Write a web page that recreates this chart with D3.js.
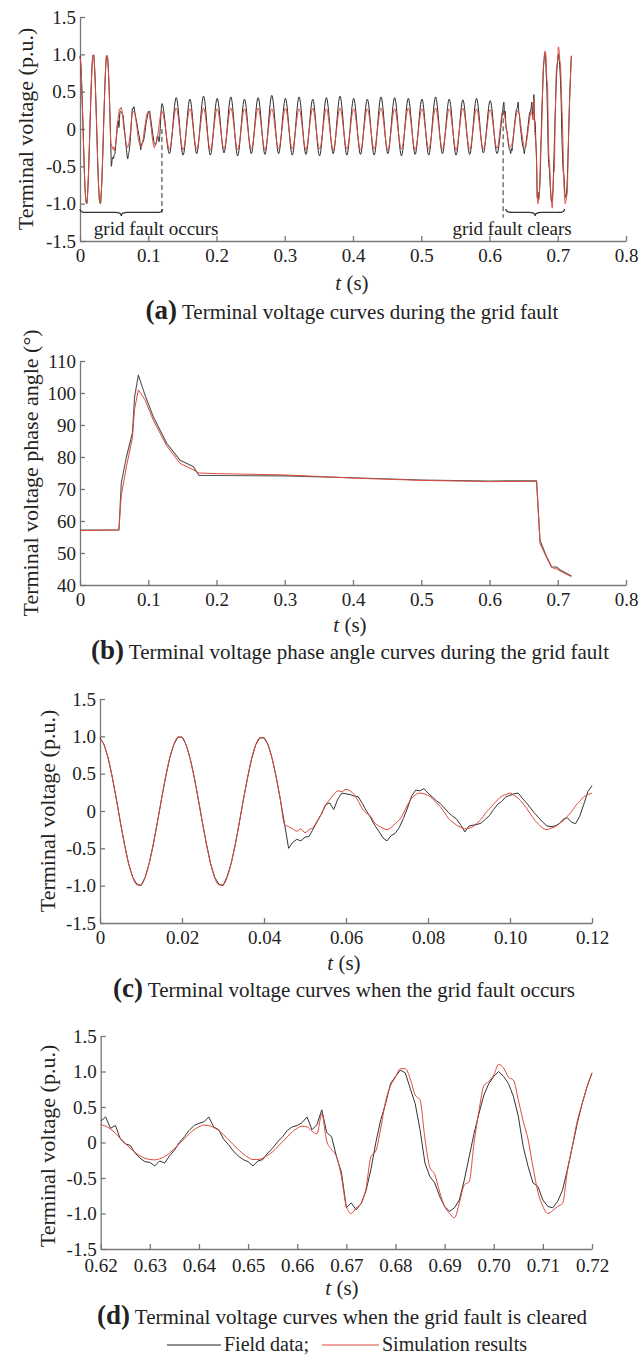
<!DOCTYPE html>
<html>
<head>
<meta charset="utf-8">
<script src="https://cdn.jsdelivr.net/npm/d3@7"></script>
<style>
  body { margin: 0; background: #fff; }
  svg text { font-family: "Liberation Serif", "Times New Roman", serif; fill: #222; }
  .axis path, .axis line { stroke: #777; stroke-width: 1.3; }
</style>
</head>
<body>
<script>
// Step 1: chart data
//= ================================
// panel (c): fault occurs, sampled every 1 ms from 0 s
var fieldC = [
  0.98, 0.89, 0.71, 0.45, 0.16, -0.16, -0.45, -0.71, -0.89, -0.98,
  -1.00, -0.89, -0.70, -0.45, -0.15, 0.16, 0.45, 0.71, 0.89, 0.99,
  0.99, 0.89, 0.70, 0.45, 0.15, -0.16, -0.45, -0.71, -0.89, -0.98,
  -1.00, -0.88, -0.70, -0.45, -0.15, 0.16, 0.45, 0.70, 0.89, 0.98,
  0.98, 0.89, 0.70, 0.45, 0.15, -0.17, -0.50, -0.42, -0.38, -0.40,
  -0.35, -0.34, -0.24, -0.14, -0.04, 0.08, 0.11, 0.02, 0.16, 0.24,
  0.23, 0.22, 0.20, 0.19, 0.10, 0.00, -0.09, -0.19, -0.27, -0.36,
  -0.40, -0.33, -0.30, -0.22, -0.10, 0.04, 0.20, 0.28, 0.27, 0.30,
  0.24, 0.19, 0.14, 0.10, 0.04, -0.02, -0.07, -0.11, -0.19, -0.28,
  -0.20, -0.19, -0.18, -0.16, -0.11, -0.06, 0.02, 0.09, 0.13, 0.19,
  0.21, 0.23, 0.24, 0.17, 0.11, 0.04, -0.03, -0.09, -0.15, -0.20,
  -0.21, -0.20, -0.17, -0.11, -0.09, -0.15, -0.17, -0.07, 0.09, 0.26,
  0.34
];
var simC = [
  0.97, 0.88, 0.70, 0.45, 0.15, -0.16, -0.46, -0.71, -0.89, -0.99,
  -0.99, -0.89, -0.70, -0.44, -0.15, 0.16, 0.46, 0.71, 0.89, 0.99,
  0.99, 0.88, 0.70, 0.44, 0.15, -0.16, -0.46, -0.71, -0.90, -0.99,
  -0.99, -0.89, -0.70, -0.44, -0.15, 0.16, 0.45, 0.71, 0.89, 0.98,
  0.98, 0.88, 0.70, 0.44, 0.15, -0.18, -0.21, -0.24, -0.27, -0.24,
  -0.29, -0.25, -0.22, -0.13, -0.04, 0.08, 0.15, 0.22, 0.27, 0.26,
  0.29, 0.27, 0.22, 0.13, 0.03, -0.03, -0.07, -0.16, -0.20, -0.23,
  -0.25, -0.22, -0.17, -0.12, -0.03, 0.08, 0.17, 0.22, 0.24, 0.23,
  0.21, 0.17, 0.11, 0.06, -0.02, -0.10, -0.15, -0.19, -0.22, -0.24,
  -0.23, -0.21, -0.16, -0.11, -0.03, 0.03, 0.09, 0.15, 0.20, 0.22,
  0.24, 0.21, 0.17, 0.11, 0.04, -0.04, -0.12, -0.18, -0.23, -0.25,
  -0.23, -0.21, -0.17, -0.13, -0.07, -0.01, 0.07, 0.13, 0.19, 0.22,
  0.24
];

// panel (d): fault cleared, sampled every 1 ms from 0.62 s
var fieldD = [
  0.30, 0.36, 0.20, 0.24, 0.05, -0.02, -0.04, -0.15, -0.22, -0.27,
  -0.28, -0.33, -0.26, -0.29, -0.19, -0.11, 0.00, 0.08, 0.17, 0.24,
  0.27, 0.29, 0.36, 0.22, 0.18, 0.05, -0.03, -0.12, -0.19, -0.24,
  -0.27, -0.33, -0.26, -0.24, -0.15, -0.08, 0.01, 0.08, 0.17, 0.22,
  0.24, 0.28, 0.36, 0.18, 0.25, 0.46, 0.14, 0.08, -0.20, -0.42,
  -0.92, -0.85, -0.95, -0.86, -0.68, -0.38, 0.00, 0.32, 0.55, 0.83,
  0.93, 1.02, 0.98, 0.76, 0.55, 0.18, -0.29, -0.48, -0.57, -0.76,
  -0.90, -0.97, -0.92, -0.81, -0.53, -0.20, 0.13, 0.41, 0.67, 0.83,
  0.93, 1.00, 0.93, 0.83, 0.65, 0.37, -0.06, -0.34, -0.57, -0.62,
  -0.81, -0.90, -0.92, -0.83, -0.67, -0.38, -0.06, 0.27, 0.55, 0.79,
  0.98
];
var simD = [
  0.25, 0.23, 0.19, 0.13, 0.06, -0.01, -0.08, -0.14, -0.19, -0.22,
  -0.24, -0.245, -0.23, -0.20, -0.15, -0.09, -0.02, 0.05, 0.12, 0.18,
  0.22, 0.245, 0.24, 0.21, 0.17, 0.11, 0.04, -0.03, -0.10, -0.16,
  -0.21, -0.24, -0.24, -0.22, -0.18, -0.13, -0.06, 0.01, 0.08, 0.15,
  0.20, 0.23, 0.22, 0.16, 0.12, 0.40, 0.02, -0.10, -0.20, -0.48,
  -0.90, -1.00, -0.92, -0.86, -0.65, -0.20, -0.12, 0.20, 0.58, 0.80,
  0.92, 1.04, 1.04, 0.90, 0.67, 0.60, 0.05, -0.35, -0.45, -0.70,
  -0.90, -1.00, -1.06, -0.85, -0.60, -0.55, 0.00, 0.45, 0.80, 0.86,
  0.95, 1.10, 1.05, 0.92, 0.88, 0.60, 0.30, 0.04, -0.35, -0.70,
  -0.90, -1.00, -0.96, -0.90, -0.86, -0.40, -0.05, 0.30, 0.55, 0.78,
  0.98
];

// panel (a) middle part: peaks / troughs every 10 ms from 0.131 s
var fieldMid = [
  -0.33, 0.42, -0.35, 0.40, -0.33, 0.44, -0.35, 0.41, -0.32, 0.43,
  -0.36, 0.40, -0.33, 0.42, -0.34, 0.45, -0.33, 0.41, -0.35, 0.43,
  -0.34, 0.40, -0.36, 0.42, -0.33, 0.44, -0.35, 0.41, -0.34, 0.40,
  -0.35, 0.43, -0.33, 0.42, -0.36, 0.41, -0.34, 0.40, -0.35, 0.43,
  -0.33, 0.40, -0.35, 0.39, -0.34, 0.41, -0.32, 0.38, -0.33
];
var simMid = [
  -0.27, 0.28, -0.28, 0.27, -0.27, 0.28, -0.28, 0.27, -0.27, 0.28,
  -0.28, 0.27, -0.27, 0.28, -0.28, 0.27, -0.27, 0.28, -0.27, 0.27,
  -0.28, 0.28, -0.27, 0.27, -0.28, 0.28, -0.27, 0.27, -0.28, 0.27,
  -0.27, 0.28, -0.28, 0.27, -0.27, 0.28, -0.28, 0.27, -0.27, 0.28,
  -0.27, 0.27, -0.28, 0.28, -0.27, 0.27, -0.27, 0.26, -0.26
];

// panel (b): phase angle (deg)
var phaseTime = [0, 0.057, 0.0605, 0.068, 0.0768, 0.080, 0.0855, 0.095, 0.1074, 0.127,
  0.1465, 0.166, 0.1744, 0.2, 0.3, 0.4, 0.5, 0.6, 0.669, 0.674,
  0.6837, 0.691, 0.6986, 0.705, 0.72];
var fieldPhase = [57.2, 57.2, 71.9, 80.0, 87.5, 98.8, 105.6, 99.5, 92.6, 84.3,
  79.0, 77.0, 74.2, 74.2, 74.1, 73.5, 72.8, 72.5, 72.6, 54.0,
  48.8, 45.7, 45.6, 44.5, 42.8];
var simPhase = [57.0, 57.2, 68.0, 77.0, 86.0, 95.0, 101.0, 98.0, 91.5, 83.5,
  78.0, 76.0, 75.0, 74.8, 74.4, 73.4, 72.7, 72.3, 72.4, 53.0,
  48.5, 45.5, 45.0, 44.2, 42.6];

// tick values
var voltTicks = [-1.5, -1.0, -0.5, 0, 0.5, 1.0, 1.5];
var phaseTicks = [40, 50, 60, 70, 80, 90, 100, 110];
var fullTimeTicks = [0, 0.1, 0.2, 0.3, 0.4, 0.5, 0.6, 0.7, 0.8];
var occurTicks = [0, 0.02, 0.04, 0.06, 0.08, 0.10, 0.12];
var clearTicks = [0.62, 0.63, 0.64, 0.65, 0.66, 0.67, 0.68, 0.69, 0.70, 0.71, 0.72];

// annotations in panel (a): [dash time, dash top, dash bottom]; brace [from, to, label, label centre]
var faultDash = [[0.12, 0.0, -1.12], [0.62, 0.25, -1.19]];
var faultBrace = [[0, 0.121, "grid fault occurs", 0.1115], [0.624, 0.71, "grid fault clears", 0.633]];
var braceLevel = -1.07;

var fieldColor = "#2a2a2a";
var simColor = "#dd4a3e";

// build [t, v] series
function series(t0, step, vals) {
  return vals.map(function (v, i) { return [+(t0 + i * step).toFixed(4), v]; });
}
var fieldCSer = series(0, 0.001, fieldC);
var simCSer = series(0, 0.001, simC);
var fieldDSer = series(0.62, 0.001, fieldD);
var simDSer = series(0.62, 0.001, simD);
var fieldAll = fieldCSer.concat(series(0.131, 0.01, fieldMid), fieldDSer);
var simAll = simCSer.concat(series(0.131, 0.01, simMid), simDSer);

// Step 2: svg
//= ================================
var svg = d3.select("body").append("svg")
  .attr("width", 639)
  .attr("height", 1356);

function fmt1(d) { return d === 0 ? "0" : d.toFixed(1); }
function fmt2(d) { return d === 0 ? "0" : d.toFixed(2); }
function fmt0(d) { return String(d); }

function makePanel(p) {
  var x = d3.scaleLinear().domain(p.xDomain).range([p.left, p.right]);
  var y = d3.scaleLinear().domain(p.yDomain).range([p.bottom, p.top]);

  svg.append("g")
    .attr("class", "axis")
    .attr("transform", "translate(0," + p.bottom + ")")
    .call(d3.axisBottom(x).tickValues(p.xTicks).tickFormat(p.xFmt)
      .tickSize(-5).tickSizeOuter(0).tickPadding(p.xPad || 8))
    .call(function (g) {
      g.selectAll("text").attr("font-size", 19).style("font-family", "Liberation Serif");
    });

  svg.append("g")
    .attr("class", "axis")
    .attr("transform", "translate(" + p.left + ",0)")
    .call(d3.axisLeft(y).tickValues(p.yTicks).tickFormat(p.yFmt)
      .tickSize(-5).tickSizeOuter(0).tickPadding(4))
    .call(function (g) {
      g.selectAll("text").attr("font-size", 19).style("font-family", "Liberation Serif");
    });

  // y title
  svg.append("text")
    .attr("transform", "translate(" + p.ytx + "," + p.yty + ") rotate(-90)")
    .attr("text-anchor", "middle")
    .attr("dy", "0.35em")
    .attr("font-size", 22)
    .text(p.yTitle);

  // x title
  var xt = svg.append("text")
    .attr("x", p.cx)
    .attr("y", p.xTitleY)
    .attr("text-anchor", "middle")
    .attr("font-size", 21);
  xt.append("tspan").attr("font-style", "italic").text("t");
  xt.append("tspan").text(" (s)");

  // caption
  var cap = svg.append("text")
    .attr("x", p.cx)
    .attr("y", p.capY)
    .attr("text-anchor", "middle");
  cap.append("tspan").attr("font-size", 27).attr("font-weight", "bold").text(p.tag);
  cap.append("tspan").attr("font-size", 21).text(" " + p.caption);

  return { x: x, y: y };
}

function drawLine(pn, data, color, width, curve) {
  var line = d3.line()
    .x(function (d) { return pn.x(d[0]); })
    .y(function (d) { return pn.y(d[1]); })
    .curve(curve || d3.curveLinear);
  svg.append("path")
    .datum(data)
    .attr("fill", "none")
    .attr("stroke", color)
    .attr("stroke-width", width)
    .attr("stroke-linejoin", "round")
    .attr("d", line);
}

// Step 3: panel (a)
//= ================================
var pa = makePanel({
  left: 80, right: 626, top: 17, bottom: 241,
  xDomain: [0, 0.8], yDomain: [-1.5, 1.5],
  xTicks: fullTimeTicks, yTicks: voltTicks, xFmt: fmt1, yFmt: fmt1,
  ytx: 25, yty: 129, yTitle: "Terminal voltage (p.u.)",
  cx: 352, xTitleY: 290, capY: 319, tag: "(a)",
  caption: "Terminal voltage curves during the grid fault"
});
drawLine(pa, fieldAll, fieldColor, 1, d3.curveMonotoneX);
drawLine(pa, simAll, simColor, 1, d3.curveMonotoneX);

faultDash.forEach(function (d) {
  svg.append("line")
    .attr("x1", pa.x(d[0])).attr("x2", pa.x(d[0]))
    .attr("y1", pa.y(d[1])).attr("y2", pa.y(d[2]))
    .attr("stroke", "#555")
    .attr("stroke-width", 1.2)
    .attr("stroke-dasharray", "5,3");
});

// curly under-braces with labels
faultBrace.forEach(function (d) {
  var x1 = pa.x(d[0]), x2 = pa.x(d[1]), xm = (x1 + x2) / 2;
  var yt = pa.y(braceLevel), h = 7, q = 6;
  var path = "M" + x1 + "," + yt +
    " Q" + x1 + "," + (yt + h / 2) + " " + (x1 + q) + "," + (yt + h / 2) +
    " L" + (xm - q) + "," + (yt + h / 2) +
    " Q" + xm + "," + (yt + h / 2) + " " + xm + "," + (yt + h) +
    " Q" + xm + "," + (yt + h / 2) + " " + (xm + q) + "," + (yt + h / 2) +
    " L" + (x2 - q) + "," + (yt + h / 2) +
    " Q" + x2 + "," + (yt + h / 2) + " " + x2 + "," + yt;
  svg.append("path")
    .attr("d", path)
    .attr("fill", "none")
    .attr("stroke", "#333")
    .attr("stroke-width", 1.3);
  svg.append("text")
    .attr("x", pa.x(d[3]))
    .attr("y", pa.y(braceLevel) + 26)
    .attr("text-anchor", "middle")
    .attr("font-size", 19)
    .attr("fill", "#333")
    .text(d[2]);
});

// Step 4: panel (b)
//= ================================
var pb = makePanel({
  left: 80, right: 626, top: 361, bottom: 585,
  xDomain: [0, 0.8], yDomain: [40, 110],
  xTicks: fullTimeTicks, yTicks: phaseTicks, xFmt: fmt1, yFmt: fmt0,
  ytx: 30, yty: 473, yTitle: "Terminal voltage phase angle (\u00B0)",
  cx: 350, xTitleY: 632, capY: 659, tag: "(b)",
  caption: "Terminal voltage phase angle curves during the grid fault"
});
drawLine(pb, phaseTime.map(function (t, i) { return [t, fieldPhase[i]]; }), "#555", 1.1);
drawLine(pb, phaseTime.map(function (t, i) { return [t, simPhase[i]]; }), simColor, 1);

// Step 5: panel (c)
//= ================================
var pc = makePanel({
  left: 100, right: 592, top: 699, bottom: 923,
  xDomain: [0, 0.12], yDomain: [-1.5, 1.5],
  xTicks: occurTicks, yTicks: voltTicks, xFmt: fmt2, yFmt: fmt1,
  ytx: 47, yty: 811, yTitle: "Terminal voltage (p.u.)",
  cx: 344, xTitleY: 970, capY: 997, tag: "(c)",
  caption: "Terminal voltage curves when the grid fault occurs"
});
drawLine(pc, fieldCSer, "#333", 1);
drawLine(pc, simCSer, simColor, 1, d3.curveMonotoneX);

// Step 6: panel (d)
//= ================================
var pd = makePanel({
  left: 100.7, right: 592, top: 1036, bottom: 1249,
  xDomain: [0.62, 0.72], yDomain: [-1.5, 1.5],
  xTicks: clearTicks, yTicks: voltTicks, xFmt: fmt2, yFmt: fmt1, xPad: 10,
  ytx: 47, yty: 1146, yTitle: "Terminal voltage (p.u.)",
  cx: 342, xTitleY: 1295, capY: 1324, tag: "(d)",
  caption: "Terminal voltage curves when the grid fault is cleared"
});
drawLine(pd, fieldDSer, "#333", 1);
drawLine(pd, simDSer, simColor, 1, d3.curveMonotoneX);

// legend
var legend = svg.append("g");
legend.append("line").attr("x1", 167).attr("x2", 221).attr("y1", 1345).attr("y2", 1345)
  .attr("stroke", "#222").attr("stroke-width", 1.2);
legend.append("text").attr("x", 224).attr("y", 1351).attr("font-size", 20).text("Field data;");
legend.append("line").attr("x1", 322).attr("x2", 379).attr("y1", 1345).attr("y2", 1345)
  .attr("stroke", simColor).attr("stroke-width", 1.2);
legend.append("text").attr("x", 382).attr("y", 1351).attr("font-size", 20).text("Simulation results");
</script>
</body>
</html>
